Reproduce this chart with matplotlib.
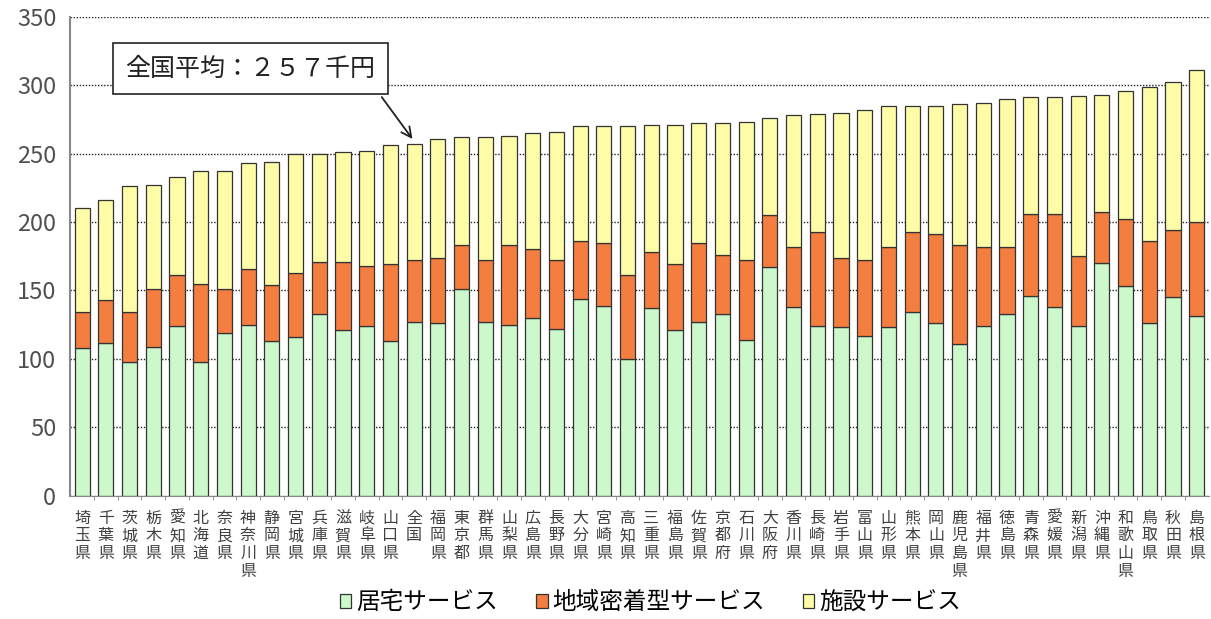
import numpy as np
import matplotlib.pyplot as plt

plt.rcParams['font.family'] = ['Noto Sans CJK JP', 'DejaVu Sans']

# 都道府県（全国を含む）
prefs = ['埼玉県', '千葉県', '茨城県', '栃木県', '愛知県', '北海道', '奈良県', '神奈川県',
         '静岡県', '宮城県', '兵庫県', '滋賀県', '岐阜県', '山口県', '全国', '福岡県',
         '東京都', '群馬県', '山梨県', '広島県', '長野県', '大分県', '宮崎県', '高知県',
         '三重県', '福島県', '佐賀県', '京都府', '石川県', '大阪府', '香川県', '長崎県',
         '岩手県', '富山県', '山形県', '熊本県', '岡山県', '鹿児島県', '福井県', '徳島県',
         '青森県', '愛媛県', '新潟県', '沖縄県', '和歌山県', '鳥取県', '秋田県', '島根県']

# 居宅サービス
kyotaku = [108, 112, 98, 109, 124, 98, 119, 125, 113, 116, 133, 121, 124, 113, 127, 126,
           151, 127, 125, 130, 122, 144, 139, 100, 137, 121, 127, 133, 114, 167, 138, 124,
           123, 117, 123, 134, 126, 111, 124, 133, 146, 138, 124, 170, 153, 126, 145, 131]
# 地域密着型サービス
chiiki = [26, 31, 36, 42, 37, 57, 32, 41, 41, 47, 38, 50, 44, 56, 45, 48,
          32, 45, 58, 50, 50, 42, 46, 61, 41, 48, 58, 43, 58, 38, 44, 69,
          51, 55, 59, 59, 65, 72, 58, 49, 60, 68, 51, 37, 49, 60, 49, 69]
# 施設サービス
shisetsu = [76, 73, 92, 76, 72, 82, 86, 77, 90, 87, 79, 80, 84, 87, 85, 87,
            79, 90, 80, 85, 94, 84, 85, 109, 93, 102, 87, 96, 101, 71, 96, 86,
            106, 110, 103, 92, 94, 103, 105, 108, 85, 85, 117, 86, 94, 113, 108, 111]

x = np.arange(len(prefs))
k = np.array(kyotaku)
c = np.array(chiiki)
s = np.array(shisetsu)

fig = plt.figure(figsize=(12.11, 6.19), dpi=100)
ax = fig.add_axes([0.058, 0.199, 0.94, 0.774])

w = 0.64
ax.bar(x, k, w, color='#CCF8CC', edgecolor='#333333', linewidth=0.9, label='居宅サービス')
ax.bar(x, c, w, bottom=k, color='#F47D40', edgecolor='#333333', linewidth=0.9, label='地域密着型サービス')
ax.bar(x, s, w, bottom=k + c, color='#FFFCA8', edgecolor='#333333', linewidth=0.9, label='施設サービス')

ax.set_xlim(-0.5, len(prefs) - 0.5)
ax.set_ylim(0, 350)
ax.set_yticks(range(0, 351, 50))
ax.tick_params(axis='y', length=0, labelsize=17, labelcolor='#505050', pad=10)
ax.yaxis.grid(True, linestyle=(0, (1, 1.2)), color='#222222', linewidth=1.0)
ax.set_axisbelow(True)

ax.set_xticks(x)
ax.set_xticklabels(['\n'.join(p) for p in prefs], fontsize=11.5, color='#404040',
                   linespacing=1.05, va='top')
ax.tick_params(axis='x', length=0, pad=10)
ax.set_xticks(x[:-1] + 0.5, minor=True)
ax.tick_params(axis='x', which='minor', length=3, color='#888888')

for side in ['top', 'right']:
    ax.spines[side].set_visible(False)
ax.spines['left'].set_color('#888888')
ax.spines['bottom'].set_color('#888888')
ax.spines['left'].set_linewidth(1.5)

ax.annotate('全国平均：２５７千円', xy=(14, 259), xytext=(7.1, 312),
            fontsize=18, ha='center', va='center', color='#222222',
            bbox=dict(boxstyle='square,pad=0.5', fc='white', ec='#222222', lw=1.2),
            arrowprops=dict(arrowstyle='->', color='#222222', lw=1.3,
                            relpos=(0.98, 0.0), mutation_scale=18))

fig.legend(loc='center', bbox_to_anchor=(0.537, 0.026), ncol=3, frameon=False,
           fontsize=17, handlelength=0.5, handleheight=0.5, handletextpad=0.2,
           columnspacing=1.6)

fig.savefig('out.png', dpi=100)
